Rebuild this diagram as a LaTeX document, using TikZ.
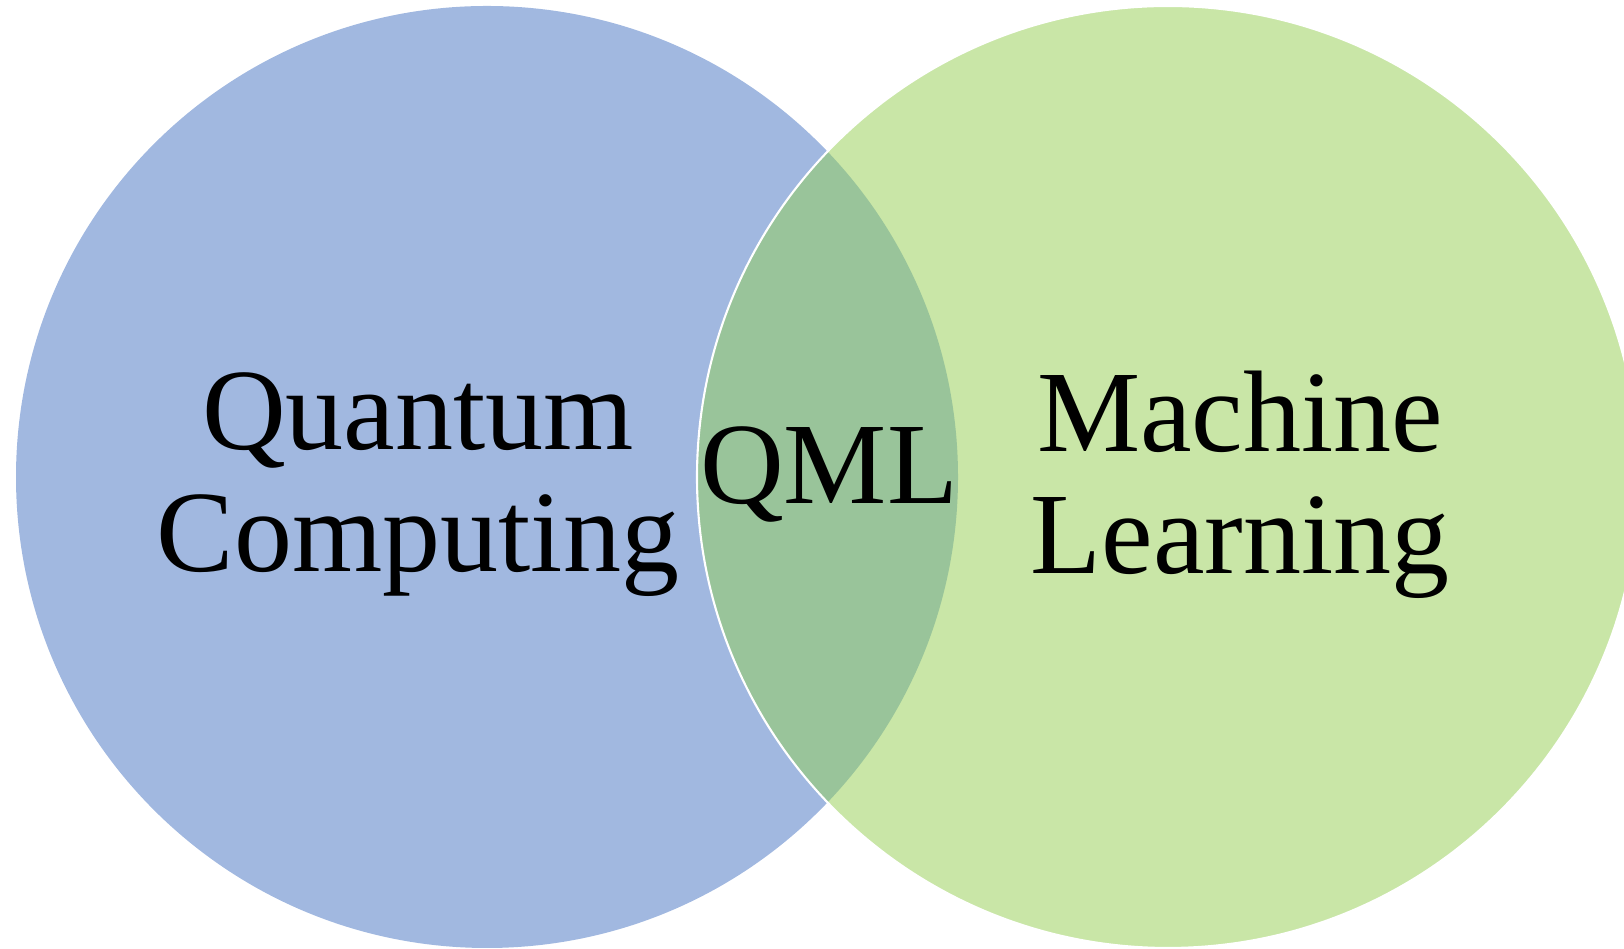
\documentclass[tikz,border=0pt]{standalone}
\usepackage{fontspec}
\setmainfont{Liberation Serif}
\definecolor{qcblue}{RGB}{161,184,224}
\definecolor{mlgreen}{RGB}{201,230,167}
\definecolor{qmlgreen}{RGB}{153,196,154}
\begin{document}
\begin{tikzpicture}[x=0.01cm, y=0.01cm,
    label text/.style={align=center, inner sep=0pt, font=\fontsize{33}{34.7}\selectfont}]
  % cadre de l'image
  \useasboundingbox (0,0) rectangle (1624,949);

  % centres des deux cercles
  \coordinate (qc) at (487,472);
  \coordinate (ml) at (1168,472);

  % les deux ensembles
  \fill[qcblue] (qc) circle (471);
  \fill[mlgreen] (ml) circle (471);

  % intersection
  \begin{scope}
    \clip (qc) circle (471);
    \fill[qmlgreen] (ml) circle (471);
  \end{scope}
  \draw[white, line width=0.6pt] (ml) circle (471);

  % textes
  \node[label text] (qctext) at (418,464) {Quantum\\Computing};
  \node[label text] (qmltext) at (829,474) {QML};
  \node[label text] (mltext) at (1240,464) {Machine\\Learning};
\end{tikzpicture}
\end{document}
